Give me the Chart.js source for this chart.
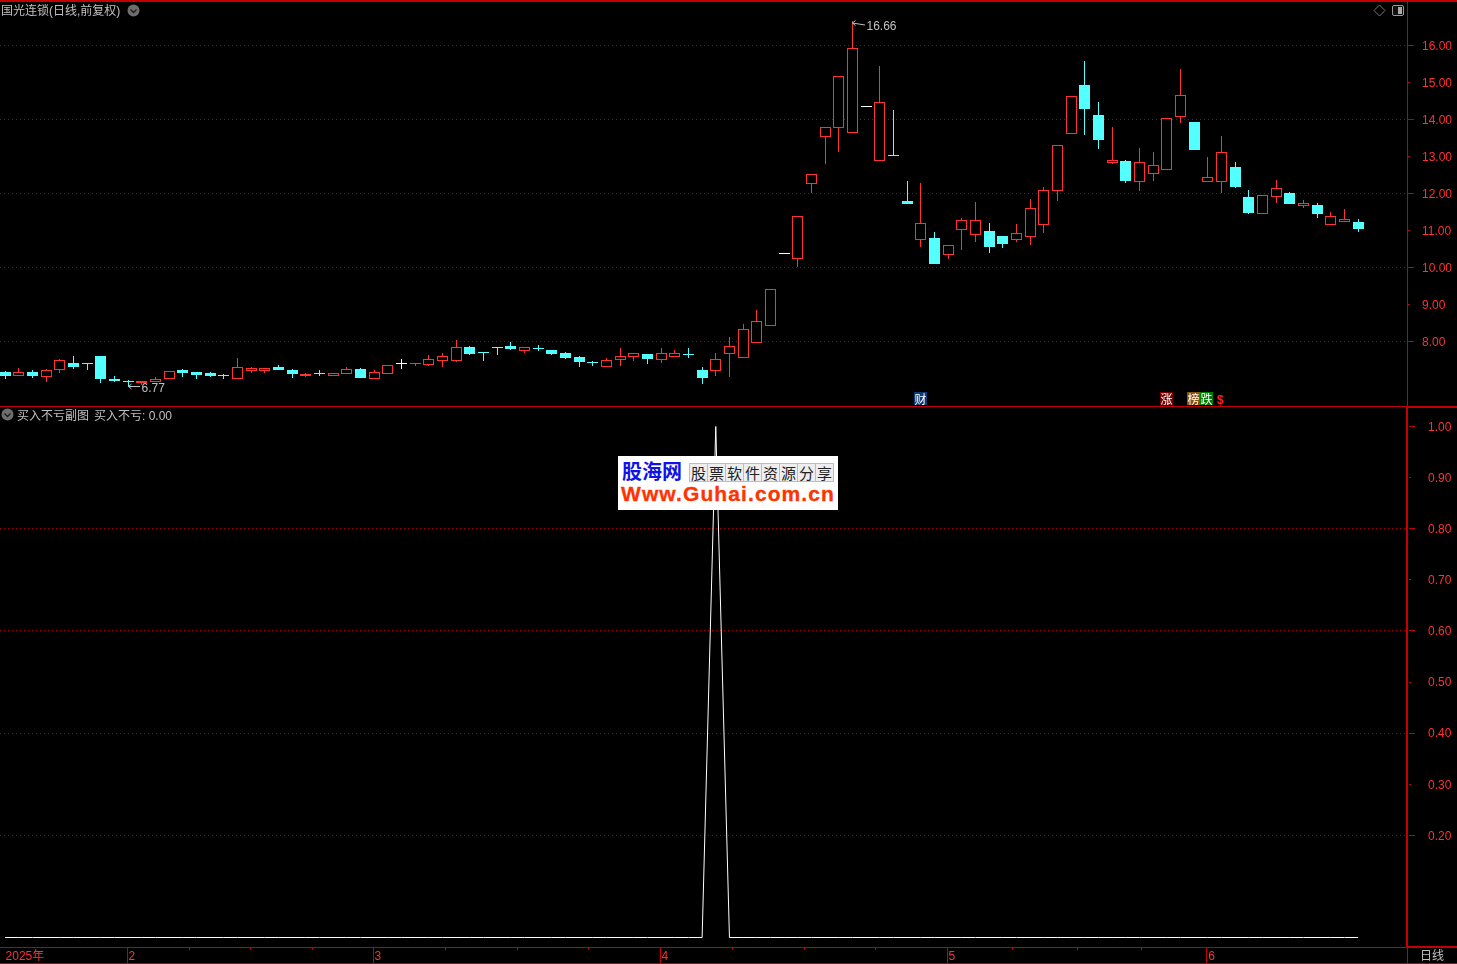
<!DOCTYPE html>
<html lang="zh-CN">
<head>
<meta charset="utf-8">
<title>国光连锁 日线</title>
<script src="https://cdn.jsdelivr.net/npm/chart.js@4"></script>
<style>
html,body{margin:0;padding:0;background:#000;width:1457px;height:964px;overflow:hidden}
canvas{position:absolute;display:block}
.t{position:absolute;white-space:pre;font:12px/14px "Liberation Sans","Noto Sans CJK SC",sans-serif;color:#c0c0c0}
.l{position:absolute;background:#c40000}
.tag{position:absolute;top:392px;width:13px;height:13px;color:#fff;font:12px/13px "Noto Sans CJK SC",sans-serif;text-align:center}
svg{position:absolute}
#logo{position:absolute;left:618px;top:456px;width:220px;height:54px;background:#fff;overflow:hidden}
#logo div{position:absolute;white-space:pre}
.cell{width:17px;height:17px;top:7px;border:1px solid #bdbdbd;background:#eee;color:#222;font:15px/17px "Noto Sans CJK SC",serif;text-align:center}
</style>
</head>
<body>
<canvas id="price" width="1457" height="407" style="left:0;top:0"></canvas>
<canvas id="sub" width="1457" height="557" style="left:0;top:407px"></canvas>
<script>
// ---- values ----
const open  = [7.17,7.06,7.17,7.04,7.22,7.41,7.39,7.60,6.98,6.90,6.87,6.90,6.98,7.22,7.17,7.14,7.06,6.98,7.20,7.20,
  7.31,7.22,7.06,7.12,7.06,7.12,7.25,6.98,7.12,7.39,7.38,7.36,7.47,7.47,7.85,7.68,7.82,7.87,7.74,7.79,
  7.77,7.68,7.58,7.41,7.31,7.50,7.58,7.66,7.50,7.58,7.63,7.22,7.20,7.66,7.55,7.95,8.41,10.36,10.22,12.25,
  13.52,13.76,13.63,14.33,12.87,13.03,11.79,10.74,10.79,10.33,11.01,10.87,10.98,10.85,10.74,10.82,11.14,12.06,13.60,14.93,
  14.12,12.82,12.87,12.30,12.52,12.63,14.06,13.93,12.30,12.30,12.71,11.90,11.44,11.90,12.01,11.66,11.68,11.14,11.22,11.22];
const close = [7.06,7.17,7.06,7.22,7.50,7.31,7.38,6.98,6.93,6.89,6.93,6.98,7.20,7.14,7.09,7.06,7.05,7.31,7.28,7.28,
  7.22,7.12,7.12,7.11,7.14,7.25,7.01,7.17,7.36,7.39,7.39,7.52,7.60,7.85,7.66,7.67,7.81,7.79,7.85,7.78,
  7.66,7.55,7.44,7.40,7.50,7.60,7.68,7.52,7.68,7.68,7.62,7.01,7.52,7.87,8.33,8.55,9.41,10.36,11.39,12.52,
  13.79,15.17,15.93,14.33,14.47,13.02,11.71,11.20,10.09,10.60,11.28,11.28,10.55,10.63,10.93,11.60,12.09,13.30,14.63,14.28,
  13.44,12.90,12.33,12.85,12.76,14.03,14.66,13.17,12.44,13.12,12.17,11.47,11.95,12.14,11.71,11.74,11.44,11.39,11.30,11.03];
const high  = [7.20,7.28,7.22,7.25,7.52,7.60,7.41,7.60,7.06,6.95,6.93,7.04,7.20,7.25,7.17,7.17,7.12,7.55,7.31,7.28,
  7.36,7.25,7.14,7.22,7.14,7.31,7.28,7.22,7.36,7.52,7.41,7.63,7.68,8.04,7.87,7.68,7.85,7.98,7.85,7.90,
  7.77,7.71,7.60,7.47,7.55,7.82,7.68,7.66,7.82,7.77,7.82,7.31,7.68,8.12,8.47,8.85,9.41,10.36,11.39,12.52,
  13.79,15.17,16.66,14.33,15.44,14.25,12.33,12.28,10.95,10.60,11.33,11.76,11.20,10.85,11.17,11.85,12.17,13.30,14.63,15.58,
  14.47,13.79,12.90,13.22,13.12,14.03,15.36,13.93,12.98,13.55,12.85,12.09,11.95,12.36,12.03,11.82,11.74,11.49,11.57,11.30];
const low   = [6.98,7.06,7.01,6.90,7.14,7.25,7.22,6.87,6.90,6.77,6.82,6.90,6.98,7.04,6.98,7.04,6.98,6.98,7.14,7.14,
  7.22,7.01,7.04,7.06,7.06,7.12,7.01,6.98,7.12,7.25,7.33,7.33,7.31,7.44,7.63,7.47,7.63,7.77,7.68,7.74,
  7.63,7.52,7.31,7.33,7.31,7.33,7.47,7.39,7.41,7.58,7.55,6.85,7.06,7.04,7.55,7.95,8.41,10.36,10.01,12.01,
  12.79,13.12,13.63,14.33,12.87,13.02,11.71,10.55,10.09,10.22,10.47,10.68,10.39,10.52,10.68,10.60,10.93,11.79,13.60,13.57,
  13.20,12.79,12.28,12.06,12.33,12.63,13.90,13.17,12.30,12.01,12.14,11.44,11.44,11.74,11.71,11.60,11.33,11.14,11.22,10.95];
const subValues = [0,0,0,0,0,0,0,0,0,0,0,0,0,0,0,0,0,0,0,0,0,0,0,0,0,
  0,0,0,0,0,0,0,0,0,0,0,0,0,0,0,0,0,0,0,0,0,0,0,0,0,
  0,0,1,0,0,0,0,0,0,0,0,0,0,0,0,0,0,0,0,0,0,0,0,0,0,
  0,0,0,0,0,0,0,0,0,0,0,0,0,0,0,0,0,0,0,0,0,0,0,0,0];
const priceTicks = [16,15,14,13,12,11,10,9,8];
const subTicks   = [1,0.9,0.8,0.7,0.6,0.5,0.4,0.3,0.2];
const monthTicks  = [0,9,27,48,69,88];
const monthLabels = ['2025年','2','3','4','5','6'];
const highMark = {index:62, value:16.66};
const lowMark  = {index:9,  value:6.77};

// ---- styles ----
const RED='#ff3232', CYAN='#54ffff', WHITE='#ffffff', AXIS='#c40000', GRID='#a80000', GREY='#c0c0c0';
const FONT='"Liberation Sans","Noto Sans CJK SC",sans-serif';
const AXIS_W=50, X_MIN=-0.37316, X_MAX=102.576;
const tone=i=>close[i]>open[i]?RED:close[i]<open[i]?CYAN:WHITE;

function rightAxis(ticks, min, max, everyOtherGrid, padding, borderW){
  return {
    position:'right', min, max,
    afterBuildTicks:s=>{s.ticks=ticks.map(value=>({value}));},
    afterFit:s=>{s.width=AXIS_W;s.paddingTop=0;s.paddingBottom=0;},
    border:{display:true,color:AXIS,width:borderW,dash:[1,3]},
    grid:{drawTicks:false,lineWidth:1,color:c=>everyOtherGrid(c.tick&&c.tick.value)?GRID:'rgba(0,0,0,0)'},
    ticks:{color:RED,font:{family:FONT,size:12},padding,labelOffset:1,autoSkip:false,maxRotation:0,callback:v=>Number(v).toFixed(2)}
  };
}
const axisMarks={id:'axisMarks',afterDraw(chart,_,o){
  const y=chart.scales.y,ctx=chart.ctx;
  ctx.save();ctx.fillStyle=AXIS;
  o.ticks.forEach((v,i)=>{ctx.fillRect(y.left+o.from,Math.floor(y.getPixelForValue(v)),i%2?2:6,1);});
  ctx.restore();
}};
const snap={id:'snap',afterDatasetsUpdate(chart){
  chart.data.datasets.forEach((d,n)=>{
    chart.getDatasetMeta(n).data.forEach(el=>{
      const top=Math.round(Math.min(el.y,el.base));
      let bot=Math.round(Math.max(el.y,el.base));
      if(bot<=top)bot=top+1;
      el.x=Math.floor(el.x)+0.5;el.y=top;el.base=bot;
    });
  });
}};
const extremes={id:'extremes',afterDraw(chart){
  const {x,y}=chart.scales,ctx=chart.ctx;
  ctx.save();ctx.fillStyle=GREY;ctx.strokeStyle=GREY;ctx.lineWidth=1;
  ctx.font='12px '+FONT;ctx.textBaseline='middle';ctx.textAlign='left';
  [[highMark,1.5,13,2.5],[lowMark,-1,12,3]].forEach(([m,dy,len,ty])=>{
    const px=Math.floor(x.getPixelForValue(m.index)),py=Math.round(y.getPixelForValue(m.value))+dy;
    ctx.beginPath();ctx.moveTo(px+.5,py+.5);ctx.lineTo(px+len,py+.5+(dy>0?2:0));
    ctx.moveTo(px+.5,py+.5);ctx.lineTo(px+3.5,py-2);ctx.moveTo(px+.5,py+.5);ctx.lineTo(px+3.5,py+3);ctx.stroke();
    ctx.fillText(m.value.toFixed(2),px+len+1.5,py+ty+(dy>0?2:0));
  });
  ctx.restore();
}};
const monthMarks={id:'monthMarks',afterDraw(chart){
  const x=chart.scales.x,ctx=chart.ctx,top=x.top;
  ctx.save();ctx.fillStyle=AXIS;
  const px=monthTicks.map(v=>Math.floor(x.getPixelForValue(v)));
  for(let i=1;i<px.length;i++){
    ctx.fillRect(px[i]-1,top,1,16);
    if(i<px.length-1)for(let k=1;k<4;k++)ctx.fillRect(Math.round(px[i]+(px[i+1]-px[i])*k/4)-1,top,1,3);
  }
  ctx.restore();
}};

const idx=open.map((_,i)=>i);
new Chart(document.getElementById('price'),{
  type:'bar',
  data:{datasets:[
    {label:'实体',order:0,grouped:false,barThickness:11,minBarLength:1,inflateAmount:0,borderSkipped:false,borderWidth:1,
     data:idx.map(i=>({x:i,y:[open[i],close[i]]})),
     borderColor:idx.map(tone),backgroundColor:idx.map(i=>tone(i)===RED?'#000':tone(i))},
    {label:'影线',order:1,grouped:false,barThickness:1,minBarLength:1,inflateAmount:0,borderSkipped:false,borderWidth:0,
     data:idx.map(i=>({x:i,y:[low[i],high[i]]})),
     backgroundColor:idx.map(tone)}
  ]},
  plugins:[snap,axisMarks,extremes],
  options:{
    responsive:false,devicePixelRatio:1,animation:false,events:[],
    layout:{padding:0},
    plugins:{legend:{display:false},tooltip:{enabled:false},axisMarks:{ticks:priceTicks,from:1}},
    scales:{
      x:{type:'linear',display:false,offset:false,min:X_MIN,max:X_MAX,grid:{offset:false}},
      y:rightAxis(priceTicks,6.224,17.224,v=>v%2===0,15,1)
    }
  }
});
new Chart(document.getElementById('sub'),{
  type:'line',
  data:{datasets:[{label:'买入不亏',data:idx.map(i=>({x:i,y:subValues[i]})),borderColor:WHITE,borderWidth:1,pointRadius:0,tension:0,fill:false}]},
  plugins:[axisMarks,monthMarks],
  options:{
    responsive:false,devicePixelRatio:1,animation:false,events:[],
    layout:{padding:0},
    plugins:{legend:{display:false},tooltip:{enabled:false},axisMarks:{ticks:subTicks,from:2}},
    scales:{
      x:{type:'linear',offset:false,min:X_MIN,max:X_MAX,
        afterBuildTicks:s=>{s.ticks=monthTicks.map(value=>({value}));},
        afterFit:s=>{s.height=17;s.paddingLeft=0;s.paddingRight=0;},
        border:{display:true,color:AXIS,width:1},
        grid:{drawOnChartArea:false,drawTicks:false,offset:false},
        ticks:{color:RED,font:{family:FONT,size:12},padding:2,align:'start',labelOffset:0.5,autoSkip:false,maxRotation:0,minRotation:0,
          callback:(v,i)=>monthLabels[i]}
      },
      y:rightAxis(subTicks,-0.01859,1.03816,v=>[0.2,0.4,0.6,0.8].includes(v),21,2)
    }
  }
});

// ---- frame, captions, markers ----
function line(x,y,w,h){const d=document.createElement('div');d.className='l';d.style.cssText=`left:${x}px;top:${y}px;width:${w}px;height:${h}px`;document.body.appendChild(d);}
line(0,0,1457,2);line(0,406,1407,1);line(1407,406,50,2);line(1407,946,50,2);line(1407,948,1,15);line(0,963,1457,1);
function text(s,x,y,c,b){const d=document.createElement('div');d.className='t';d.textContent=s;d.style.left=x+'px';d.style.top=y+'px';if(c)d.style.color=c;if(b)d.style.fontWeight='bold';document.body.appendChild(d);}
text('国光连锁(日线,前复权)',1,4);
text('买入不亏副图',17,409);
text('买入不亏: 0.00',94,409);
text('日线',1420,949);
function tag(s,x,bg){const d=document.createElement('div');d.className='tag';d.textContent=s;d.style.left=x+'px';d.style.background=bg;document.body.appendChild(d);}
tag('财',914,'#0b3a74');tag('涨',1160,'#7a0000');tag('榜',1187,'#8a5010');tag('跌',1200,'#007a00');
text('$',1217,393,'#ff2020',true);
</script>
<svg style="left:127px;top:4px" width="13" height="13"><circle cx="6.5" cy="6.5" r="6" fill="#6e6e6e"/><path d="M3.5 5.5 6.5 8.5 9.5 5.5" fill="none" stroke="#1a1a1a" stroke-width="1.3"/></svg>
<svg style="left:1px;top:408px" width="13" height="13"><circle cx="6.5" cy="6.5" r="6" fill="#6e6e6e"/><path d="M3.5 5.5 6.5 8.5 9.5 5.5" fill="none" stroke="#1a1a1a" stroke-width="1.3"/></svg>
<svg style="left:1373px;top:4px" width="13" height="13"><path d="M6.5 1 12 6.5 6.5 12 1 6.5Z" fill="none" stroke="#777" stroke-width="1"/></svg>
<svg style="left:1392px;top:5px" width="13" height="12"><rect x=".5" y=".5" width="11" height="10" rx="1.5" fill="#111" stroke="#999"/><rect x="6" y="2" width="4" height="7" fill="#aaa"/></svg>
<div id="logo">
  <div style="left:4px;top:3px;font:bold 20px/24px 'Noto Sans CJK SC',sans-serif;color:#1212e6">股海网</div>
  <div class="cell" style="left:71px">股</div><div class="cell" style="left:89px">票</div><div class="cell" style="left:107px">软</div><div class="cell" style="left:125px">件</div><div class="cell" style="left:143px">资</div><div class="cell" style="left:161px">源</div><div class="cell" style="left:179px">分</div><div class="cell" style="left:197px">享</div>
  <div style="left:3px;top:26px;font:bold 21px/24px 'Liberation Sans',sans-serif;letter-spacing:1.1px;color:#ff3300;-webkit-text-stroke:.3px #ff3300">Www.Guhai.com.cn</div>
</div>
</body>
</html>
